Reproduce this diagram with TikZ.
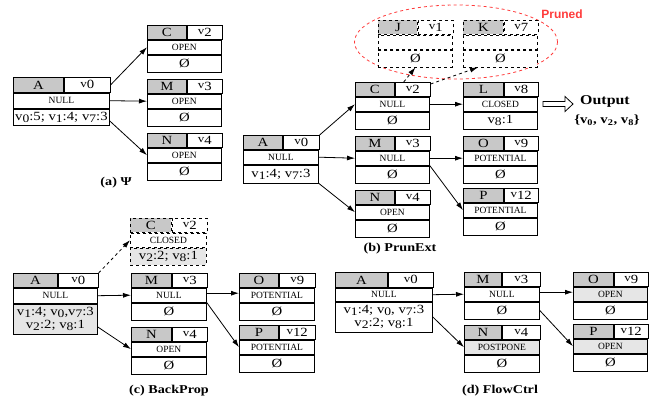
\documentclass[tikz,border=0pt]{standalone}
\usepackage{fontspec}
\setmainfont[FakeStretch=1.18]{Liberation Serif}
\newfontfamily\plainf{Liberation Serif}
\newfontfamily\sansf{Liberation Sans}
\usetikzlibrary{arrows.meta,shapes.geometric,calc}
\definecolor{hgray}{HTML}{C8C8C8}
\definecolor{lgray}{HTML}{E6E6E6}
\definecolor{prred}{HTML}{FF3B3B}
\newcommand\vh[1]{\raisebox{0.3ex}{\fontsize{11}{10}\selectfont v}#1}
\newcommand\vs[1]{v\raisebox{-0.35ex}{\fontsize{11.5}{10}\selectfont #1}}
\newcommand\tbox[9]{%
 \node[hdl, minimum width=#5, #1 all/.try, #1 h/.try] (#1h) at (#2,#3) {#6};
 \node[hdr, minimum width=#4-#5, #1 all/.try, #1 h/.try] (#1v) at (#1h.north east) {\vh{#7}};
 \node[strow, minimum width=#4, #1 all/.try, #1 s/.try] (#1s) at (#1h.south west) {#8};
 \node[lirow, minimum width=#4, #1 all/.try, #1 l/.try] (#1l) at (#1s.south west) {#9};
}
\tikzset{
 cell/.style={draw, line width=0.8pt, inner sep=0pt, anchor=north west, minimum height=14},
 hdl/.style={cell, fill=hgray, font=\fontsize{12.5}{12}\selectfont},
 hdr/.style={cell, fill=white, font=\fontsize{12.5}{12}\selectfont},
 strow/.style={cell, fill=white, font=\plainf\fontsize{9.5}{10}\selectfont},
 lirow/.style={cell, fill=white, minimum height=17, align=center, font=\fontsize{12.5}{13.5}\selectfont},
 conn/.style={-{Latex[length=8pt,width=5pt]}, line width=0.8pt},
 dconn/.style={conn, dashed},
 capt/.style={font=\bfseries\fontsize{12}{12}\selectfont},
 aA h/.style={minimum height=15}, aA s/.style={minimum height=15}, aA l/.style={minimum height=16},
 bA l/.style={minimum height=18},
 bJ all/.style={dashed}, bK all/.style={dashed},
 cC all/.style={dashed}, cC l/.style={fill=lgray},
 cA s/.style={minimum height=15}, cA l/.style={fill=lgray, minimum height=30},
 dA h/.style={minimum height=15}, dA s/.style={minimum height=13}, dA l/.style={minimum height=30},
 dN s/.style={fill=lgray}, dO s/.style={fill=lgray}, dP s/.style={fill=lgray},
}
\begin{document}
\begin{tikzpicture}[x=1pt,y=-1pt]
\useasboundingbox (0,0) rectangle (668,403);
% ---------- (a)
\tbox{aA}{13}{77}{96}{50}{A}{0}{NULL}{\vs{0}:5; \vs{1}:4; \vs{7}:3}
\tbox{aC}{147}{25}{74}{39}{C}{2}{OPEN}{Ø}
\tbox{aM}{147}{79}{74}{39}{M}{3}{OPEN}{Ø}
\tbox{aN}{147}{133}{74}{39}{N}{4}{OPEN}{Ø}
\draw[conn] (aAv.east) -- (aCs.west);
\draw[conn] (aAs.east) -- (aMs.west);
\draw[conn] ([yshift=-4pt]aAl.east) -- (aNs.west);
\node[capt] (capa) at (116,183) {(a) Ψ};
% ---------- (b)
\node[ellipse, draw=prred, dashed, line width=0.8pt, minimum width=203, minimum height=74] (prn) at (456,42) {};
\node[font=\sansf\bfseries\fontsize{12}{12}\selectfont, text=prred] (prlab) at (562,14) {Pruned};
\tbox{bA}{243}{135}{75}{39}{A}{0}{NULL}{\vs{1}:4; \vs{7}:3}
\tbox{bC}{355}{82}{74}{39}{C}{2}{NULL}{Ø}
\tbox{bL}{463}{82}{74}{40}{L}{8}{CLOSED}{\vs{8}:1}
\tbox{bJ}{378}{20}{74}{39}{J}{1}{}{Ø}
\tbox{bK}{463}{20}{74}{40}{K}{7}{}{Ø}
\tbox{bM}{355}{136}{74}{39}{M}{3}{NULL}{Ø}
\tbox{bN}{355}{190}{74}{39}{N}{4}{OPEN}{Ø}
\tbox{bO}{463}{136}{74}{40}{O}{9}{POTENTIAL}{Ø}
\tbox{bP}{463}{188}{74}{40}{P}{12}{POTENTIAL}{Ø}
\draw[conn] (bAv.north east) -- (bCs.west);
\draw[conn] (bAs.east) -- (bMs.west);
\draw[conn] (bAl.south east) -- (bNs.west);
\draw[conn] (bCs.east) -- (bLs.west);
\draw[conn] (bMs.east) -- (bOs.west);
\draw[conn] (bMs.south east) -- (bPs.west);
\draw[dconn] ($(bCv.north west)!0.25!(bCv.north east)$) -- (bJl.south);
\draw[dconn] ([yshift=-2pt]bCv.north east) -- ($(bKl.south west)!0.2!(bKl.south east)$);
\coordinate (oa) at (543,104);
\draw[line width=0.8pt, fill=white] (oa) ++(0,-2.5) -- ++(22,0) -- ++(0,-5) -- ++(8,7.5) -- ++(-8,7.5) -- ++(0,-5) -- ++(-22,0) -- cycle;
\node[font=\bfseries\fontsize{13.5}{14}\selectfont] (outl) at (605,101) {Output};
\node[font=\bfseries\fontsize{12.5}{12}\selectfont] (outs) at (607,120) {\{v\textsubscript{0}, v\textsubscript{2}, v\textsubscript{8}\}};
\node[capt] (capb) at (400,249) {(b) PrunExt};
% ---------- (c)
\tbox{cC}{130}{218}{76}{41}{C}{2}{CLOSED}{\vs{2}:2; \vs{8}:1}
\tbox{cA}{13}{273}{84}{44}{A}{0}{NULL}{\vs{1}:4; \vs{0},\vs{7}:3\\\vs{2}:2; \vs{8}:1}
\tbox{cM}{131}{273}{75}{40}{M}{3}{NULL}{Ø}
\tbox{cN}{131}{327}{75}{40}{N}{4}{OPEN}{Ø}
\tbox{cO}{239}{273}{75}{39}{O}{9}{POTENTIAL}{Ø}
\tbox{cP}{239}{325}{75}{39}{P}{12}{POTENTIAL}{Ø}
\draw[dconn] (cAv.north east) -- (cCs.west);
\draw[conn] (cAs.east) -- (cMs.west);
\draw[conn] ([yshift=-8pt]cAl.east) -- (cNs.west);
\draw[conn] ([yshift=2pt]cMs.east) -- ([yshift=2pt]cOs.west);
\draw[conn] (cMs.south east) -- (cPs.west);
\node[capt] (capc) at (169,391) {(c) BackProp};
% ---------- (d)
\tbox{dA}{335}{272}{97}{52}{A}{0}{NULL}{\vs{1}:4; \vs{0}, \vs{7}:3\\\vs{2}:2; \vs{8}:1}
\tbox{dM}{464}{272}{75}{37}{M}{3}{NULL}{Ø}
\tbox{dN}{464}{325}{75}{37}{N}{4}{POSTPONE}{Ø}
\tbox{dO}{573}{272}{74}{40}{O}{9}{OPEN}{Ø}
\tbox{dP}{573}{324}{74}{40}{P}{12}{OPEN}{Ø}
\draw[conn] (dAs.east) -- (dMs.west);
\draw[conn] (dAl.east) -- (dNs.west);
\draw[conn] ([yshift=2pt]dMs.east) -- ([yshift=2pt]dOs.west);
\draw[conn] (dMl.east) -- (dPs.west);
\node[capt] (capd) at (500,391) {(d) FlowCtrl};
\end{tikzpicture}
\end{document}
